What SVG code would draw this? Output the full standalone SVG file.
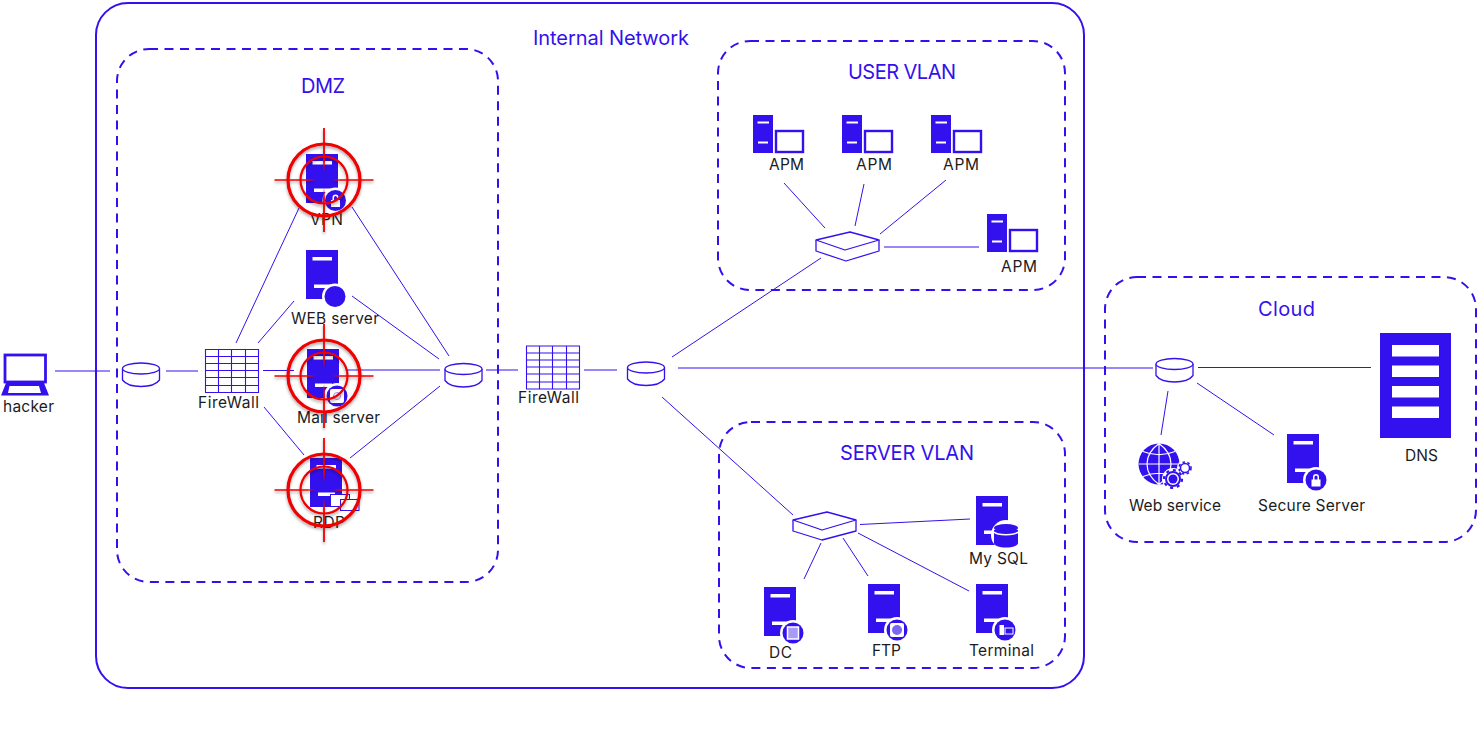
<svg xmlns="http://www.w3.org/2000/svg" width="1477" height="750" viewBox="0 0 1477 750">
<style>
text{font-family:"Inter","Noto Sans","Liberation Sans",sans-serif;font-size:15.5px;fill:#1c1c1c}
text.t{font-size:20px;fill:#3311ee}
.zone{fill:none;stroke:#3311ee;stroke-width:2}
.dash{stroke-dasharray:9 6.5}
.b{fill:#3311ee}
.w{fill:#fff}
.o{fill:#fff;stroke:#3311ee;stroke-width:1.3;stroke-linejoin:round}
#links line{stroke:#3311ee;stroke-width:1;fill:none}
</style>
<defs>
<filter id="shadow" x="-20%" y="-20%" width="140%" height="140%"><feDropShadow dx="0" dy="2" stdDeviation="1.6" flood-color="#000" flood-opacity=".35"/></filter>
<g id="server"><rect class="b" width="32" height="49"/><rect class="w" x="6.5" y="7" width="19.5" height="3.5"/><rect class="w" x="8" y="34.5" width="17" height="3.5"/></g>
<g id="badge"><circle class="w" r="13"/><circle class="b" r="10.5"/></g>
<g id="apm"><rect class="b" width="20" height="38"/><rect class="w" x="4.5" y="6.5" width="11.5" height="2"/><rect class="w" x="5" y="26.5" width="10" height="2"/><rect x="23" y="16" width="27" height="21" fill="#fff" stroke="#3311ee" stroke-width="2.400"/></g>
<g id="cyl"><path class="o" d="M0 6.5V18C3 22 10 24.5 18.5 24.5S34 22 37 18V6.5"/><ellipse class="o" cx="18.5" cy="6.5" rx="18.5" ry="5.5"/></g>
<g id="fw"><path fill="#fff" stroke="#3311ee" stroke-width="1.100" d="M.5.5H53.500V43.500H.5ZM13.500.5V43.500M26.500.5V43.500M40.500.5V43.500M.5 7.500H53.500M.5 14.500H53.500M.5 21.500H53.500M.5 28.500H53.500M.5 36.500H53.500"/></g>
<g id="target" filter="url(#shadow)"><circle r="36" fill="none" stroke="#f00000" stroke-width="3.200"/><circle r="23.500" fill="none" stroke="#f00000" stroke-width="2.200"/><path fill="#f00000" d="M-49.500-.8H-16L-8 0-16 .8H-49.500ZM49.500-.8H16L8 0 16 .8H49.500ZM-.9-52V-18L0-8 .9-18V-52ZM-.9 52V18L0 8 .9 18V52Z"/></g>
<path id="lock" d="M-4.500-1H4.500V6H-4.500ZM-3-1V-3.500A3 3 0 0 1 3-3.500V-1H1.500V-3.500A1.500 1.500 0 0 0-1.500-3.500V-1Z" fill="#fff"/>
</defs>

<g id="zones">
<rect class="zone" x="96" y="3" width="988" height="685" rx="32"/>
<rect class="zone dash" x="117" y="49" width="381" height="533" rx="32"/>
<rect class="zone dash" x="718" y="41" width="347" height="249" rx="32"/>
<rect class="zone dash" x="719" y="422" width="346" height="246" rx="32"/>
<rect class="zone dash" x="1105" y="277" width="371" height="265" rx="32"/>
<text class="t" x="533" y="45" textLength="156">Internal Network</text>
<text class="t" x="301" y="93" textLength="44">DMZ</text>
<text class="t" x="848" y="79" textLength="108">USER VLAN</text>
<text class="t" x="840" y="460" textLength="134">SERVER VLAN</text>
<text class="t" x="1258" y="316" textLength="57">Cloud</text>
</g>

<g id="links">
<line x1="55" y1="371" x2="110" y2="371"/>
<line x1="166" y1="371" x2="198" y2="371"/>
<line x1="236" y1="343" x2="299" y2="208"/>
<line x1="258" y1="343" x2="294" y2="301"/>
<line x1="263" y1="370.500" x2="294" y2="370.500"/>
<line x1="347" y1="370" x2="440" y2="370"/>
<line x1="264" y1="407" x2="304" y2="455"/>
<line x1="350" y1="458" x2="440" y2="386"/>
<line x1="352" y1="296" x2="439" y2="359"/>
<line x1="352" y1="207" x2="449" y2="356"/>
<line x1="486" y1="370" x2="518" y2="370"/>
<line x1="584" y1="370" x2="617" y2="370"/>
<line x1="678" y1="368" x2="1153" y2="368"/>
<line x1="672" y1="357" x2="821" y2="258"/>
<line x1="662" y1="397" x2="793" y2="515"/>
<line x1="784" y1="183" x2="825" y2="228"/>
<line x1="864" y1="184" x2="855" y2="226"/>
<line x1="946" y1="180" x2="880" y2="234"/>
<line x1="884" y1="247" x2="979" y2="247"/>
<line x1="860" y1="524.500" x2="970" y2="519"/>
<line x1="858" y1="533" x2="969" y2="591"/>
<line x1="843" y1="538" x2="868" y2="576"/>
<line x1="821" y1="543" x2="804" y2="579"/>
<line x1="1198" y1="367.500" x2="1371" y2="367.500"/>
<line x1="1168" y1="391" x2="1161" y2="435"/>
<line x1="1197" y1="383" x2="1274" y2="435"/>
</g>

<g id="hacker">
<rect x="5" y="355" width="40.500" height="27" fill="#fff" stroke="#3311ee" stroke-width="2.800"/>
<path class="b" fill-rule="evenodd" d="M6 383H44L49 395.500H1ZM9.500 386 8 393H41L39 386Z"/>
<text x="3" y="412" textLength="51">hacker</text>
</g>
<g id="router-1"><use href="#cyl" x="122.500" y="362"/></g>
<g id="firewall-1"><use href="#fw" x="205" y="349"/><text x="198" y="408" textLength="61">FireWall</text></g>
<g id="router-2"><use href="#cyl" x="445" y="362.500"/></g>
<g id="firewall-2"><use href="#fw" x="526" y="345.500"/><text x="518" y="403" textLength="61">FireWall</text></g>
<g id="router-3"><use href="#cyl" x="627.500" y="361"/></g>

<g id="vpn">
<use href="#server" x="306" y="154"/><use href="#badge" x="335.500" y="200.500"/><use href="#lock" x="335.500" y="201"/>
<text x="310" y="225" textLength="33">VPN</text><use href="#target" x="324" y="180"/>
</g>
<g id="web-server">
<use href="#server" x="306" y="250"/><use href="#badge" x="335" y="296.500"/>
<text x="291" y="324" textLength="88">WEB server</text>
</g>
<g id="mail-server">
<use href="#server" x="307" y="349"/><use href="#badge" x="337" y="396"/>
<rect x="330" y="389" width="14" height="14" rx="2" fill="#fff"/><circle cx="337" cy="396" r="3.500" fill="none" stroke="#9d8cf5"/>
<text x="297" y="423" textLength="83">Mail server</text><use href="#target" x="324" y="376"/>
</g>
<g id="rdp">
<use href="#server" x="310" y="458"/>
<rect x="330.500" y="494.500" width="19" height="12" fill="#fff" stroke="#3311ee"/><rect x="340.500" y="499.500" width="18.500" height="11" fill="#fff" stroke="#3311ee"/>
<text x="313" y="528" textLength="32">RDP</text><use href="#target" x="324" y="490"/>
</g>

<g id="switch-user">
<path class="o" d="M816 240V251L846 261 879 251V240"/><path class="o" d="M816 240 850 232 879 240 845 250Z"/>
</g>
<g id="apm-1"><use href="#apm" x="753" y="115"/><text x="769" y="170" textLength="35">APM</text></g>
<g id="apm-2"><use href="#apm" x="842" y="115"/><text x="856" y="170" textLength="36">APM</text></g>
<g id="apm-3"><use href="#apm" x="931" y="115"/><text x="943" y="170" textLength="36">APM</text></g>
<g id="apm-4"><use href="#apm" x="987" y="214"/><text x="1001" y="272" textLength="36">APM</text></g>

<g id="switch-server">
<path class="o" d="M793 520V531L822 540 856 531V520"/><path class="o" d="M793 520 827 512 856 520 822 530Z"/>
</g>
<g id="mysql">
<use href="#server" x="976" y="496"/>
<circle class="w" cx="1006" cy="535" r="15"/>
<path class="b" d="M994 530V543C994 545.500 999 547.500 1006 547.500S1018 545.500 1018 543V530Z"/><ellipse class="b" cx="1006" cy="528" rx="12" ry="4"/><path d="M994 532C997 535.500 1015 535.500 1018 532" fill="none" stroke="#fff" stroke-width="1.500"/>
<text x="969" y="564" textLength="59">My SQL</text>
</g>
<g id="dc">
<use href="#server" x="764" y="587"/><use href="#badge" x="793" y="633"/>
<rect x="787.500" y="627" width="11" height="12" fill="#a89bf7" stroke="#fff" stroke-width="1.500"/>
<text x="769" y="658" textLength="23">DC</text>
</g>
<g id="ftp">
<use href="#server" x="868" y="584"/><use href="#badge" x="897" y="630"/>
<rect x="890" y="623" width="14" height="14" rx="2" fill="#fff"/><circle cx="897" cy="630" r="5" fill="#7a66f2"/>
<text x="872" y="656" textLength="29">FTP</text>
</g>
<g id="terminal">
<use href="#server" x="976" y="584"/><use href="#badge" x="1005" y="630"/>
<rect x="999.500" y="625" width="4.500" height="10" fill="#fff"/><rect x="1005" y="628" width="8" height="6" fill="none" stroke="#fff"/>
<text x="969" y="656" textLength="65">Terminal</text>
</g>

<g id="router-4"><use href="#cyl" x="1156" y="357.500"/></g>
<g id="dns">
<rect class="b" x="1380" y="333" width="71" height="105"/>
<rect class="w" x="1392" y="345" width="47" height="11.500"/><rect class="w" x="1392" y="365.500" width="47" height="11.500"/><rect class="w" x="1392" y="386" width="47" height="11.500"/><rect class="w" x="1392" y="406.500" width="47" height="11.500"/>
<text x="1405" y="461" textLength="33">DNS</text>
</g>
<g id="secure-server">
<use href="#server" x="1287" y="434"/><use href="#badge" x="1316" y="480"/><use href="#lock" x="1316" y="480.500"/>
<text x="1258" y="511" textLength="107">Secure Server</text>
</g>
<g id="web-service">
<circle class="b" cx="1159" cy="464" r="20.500"/>
<path d="M1159 443.500V484.500M1139 464H1179M1143 451.500Q1159 458 1175 451.500M1143 476.500Q1159 470 1175 476.500M1159 443.500C1143 455 1143 473 1159 484.500M1159 443.500C1175 455 1175 473 1159 484.500" fill="none" stroke="#fff" stroke-width="1.200"/>
<circle class="w" cx="1173" cy="479" r="11"/><circle class="w" cx="1185" cy="468" r="8"/>
<circle cx="1173" cy="479" r="7" fill="#fff" stroke="#3311ee" stroke-width="2"/><circle cx="1173" cy="479" r="9" fill="none" stroke="#3311ee" stroke-width="2.200" stroke-dasharray="3 4"/><circle class="b" cx="1173" cy="479" r="4.500"/>
<circle cx="1185" cy="468" r="4.500" fill="#fff" stroke="#3311ee" stroke-width="1.500"/><circle cx="1185" cy="468" r="6" fill="none" stroke="#3311ee" stroke-width="1.600" stroke-dasharray="2.500 2.500"/>
<text x="1129" y="511" textLength="92">Web service</text>
</g>
</svg>
